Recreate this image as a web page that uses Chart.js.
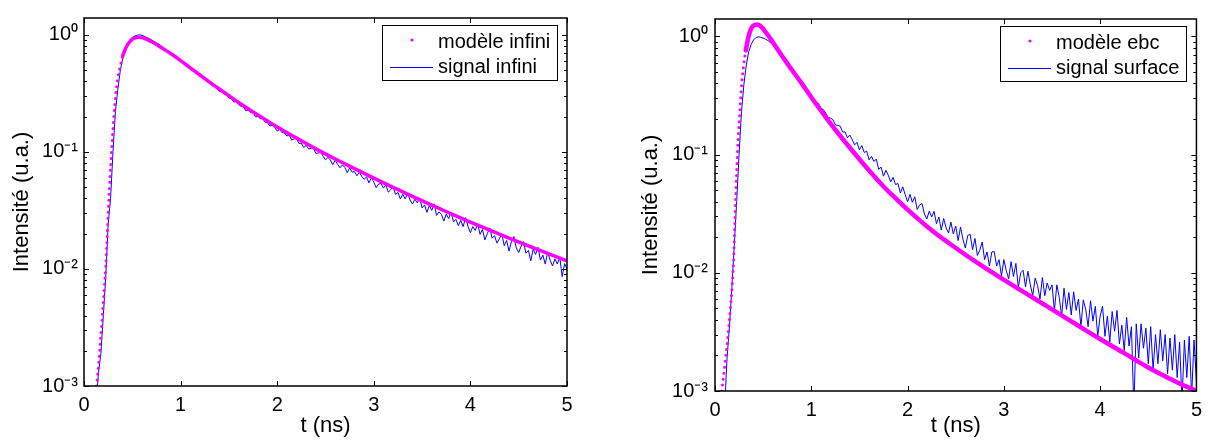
<!DOCTYPE html>
<html>
<head>
<meta charset="utf-8">
<script src="https://cdn.jsdelivr.net/npm/chart.js@4/dist/chart.umd.min.js"></script>
<style>
  html, body { margin: 0; padding: 0; background: #fff; }
  #left, #right { position: absolute; top: 0; }
  #left { left: 0; }
  #right { left: 605px; }
</style>
</head>
<body>
<canvas id="left" width="605" height="443"></canvas>
<canvas id="right" width="604" height="443"></canvas>
<script>
// axes
const xTickValues = [0, 1, 2, 3, 4, 5];
const yDecades = [0.001, 0.01, 0.1, 1];
const xTitle = 't (ns)';
const yTitle = 'Intensité (u.a.)';

// left panel : modèle infini / signal infini
const leftModelLabel = 'modèle infini';
const leftSignalLabel = 'signal infini';
const leftModelT = [0.13, 0.15, 0.17, 0.19, 0.21, 0.225, 0.24, 0.255, 0.27, 0.285, 0.30, 0.315, 0.33, 0.345, 0.36, 0.38,
  0.40, 0.425, 0.45, 0.475, 0.50, 0.53, 0.56, 0.60, 0.65, 0.70, 0.75, 0.80, 0.85, 0.90, 0.95, 1.0,
  1.1, 1.2, 1.3, 1.4, 1.5, 1.6, 1.7, 1.8, 1.9, 2.0, 2.2, 2.4, 2.6, 2.8, 3.0, 3.2, 3.4, 3.6, 3.8,
  4.0, 4.2, 4.4, 4.6, 4.8, 5.0];
const leftModelY = [0.0010, 0.0015, 0.0024, 0.0040, 0.0068, 0.0105, 0.019, 0.036, 0.062, 0.100, 0.157, 0.23, 0.315, 0.40, 0.475, 0.56,
  0.655, 0.745, 0.82, 0.875, 0.915, 0.94, 0.95, 0.945, 0.912, 0.87, 0.825, 0.777, 0.732, 0.688, 0.645, 0.602,
  0.522, 0.453, 0.394, 0.344, 0.301, 0.264, 0.233, 0.206, 0.183, 0.163, 0.131, 0.106, 0.0869, 0.0718, 0.0596, 0.0497, 0.0416, 0.0350, 0.0296,
  0.0251, 0.0214, 0.0183, 0.0157, 0.0136, 0.0117];
// signal sampled every 0.025 ns from 0.1 ns (8 samples per row)
const leftSignalY = [
  0.0005, 0.0007, 0.0013, 0.0019, 0.0040, 0.0085, 0.024, 0.040,
  0.10, 0.22, 0.34, 0.49, 0.62, 0.74, 0.84, 0.90,
  0.95, 0.975, 0.99, 1.0, 0.99, 0.97, 0.945, 0.93,
  0.905, 0.875, 0.855, 0.83, 0.80, 0.765, 0.742, 0.715,
  0.696, 0.671, 0.642, 0.629, 0.602, 0.573, 0.565, 0.536,
  0.525, 0.495, 0.491, 0.466, 0.443, 0.441, 0.416, 0.396,
  0.390, 0.367, 0.369, 0.348, 0.328, 0.328, 0.313, 0.311,
  0.288, 0.286, 0.266, 0.270, 0.255, 0.243, 0.2445, 0.224,
  0.2275, 0.216, 0.2165, 0.199, 0.2005, 0.192, 0.1925, 0.1795,
  0.177, 0.166, 0.170, 0.1605, 0.1507, 0.1552, 0.1459, 0.1452,
  0.1365, 0.139, 0.126, 0.129, 0.1294, 0.118, 0.1186, 0.109,
  0.1138, 0.106, 0.107, 0.1076, 0.0968, 0.0977, 0.0986, 0.0918,
  0.0855, 0.0895, 0.0853, 0.0776, 0.0849, 0.0783, 0.073, 0.0773,
  0.0736, 0.0664, 0.0728, 0.067, 0.0678, 0.0625, 0.067, 0.0617,
  0.0582, 0.061, 0.0543, 0.0603, 0.055, 0.0495, 0.0531, 0.0537,
  0.049, 0.052, 0.0453, 0.0474, 0.0502, 0.0433, 0.0449, 0.0395,
  0.0434, 0.0396, 0.0445, 0.0388, 0.0358, 0.0394, 0.0367, 0.0404,
  0.0332, 0.0352, 0.0304, 0.0349, 0.0316, 0.0359, 0.0286, 0.0307,
  0.0293, 0.0256, 0.0294, 0.0269, 0.0306, 0.0252, 0.0265, 0.0234,
  0.026, 0.023, 0.0274, 0.0231, 0.0204, 0.023, 0.0213, 0.0242,
  0.0197, 0.0217, 0.0177, 0.020, 0.0224, 0.0183, 0.0192, 0.0166,
  0.0181, 0.0199, 0.0158, 0.0175, 0.0142, 0.0172, 0.0189, 0.0151,
  0.0138, 0.0156, 0.0171, 0.0136, 0.0144, 0.0117, 0.0148, 0.0133,
  0.0153, 0.0119, 0.0131, 0.011, 0.0139, 0.0119, 0.0106, 0.0122,
  0.011, 0.0126, 0.0086, 0.0111, 0.00995
];

// right panel : modèle ebc / signal surface
const rightModelLabel = 'modèle ebc';
const rightSignalLabel = 'signal surface';
const rightModelT = [0.07, 0.10, 0.13, 0.16, 0.18, 0.195, 0.21, 0.225, 0.24, 0.26, 0.28, 0.30, 0.32, 0.34, 0.36, 0.38,
  0.40, 0.43, 0.46, 0.49, 0.52, 0.555, 0.60, 0.65, 0.70, 0.75, 0.80, 0.85, 0.90, 0.95, 1.0,
  1.125, 1.25, 1.375, 1.5, 1.625, 1.75, 1.875, 2.0, 2.25, 2.5, 2.75, 3.0, 3.25, 3.5, 3.75,
  4.0, 4.25, 4.5, 4.75, 5.0];
const rightModelY = [0.0010, 0.0016, 0.0027, 0.0050, 0.0080, 0.0140, 0.033, 0.072, 0.135, 0.243, 0.42, 0.59, 0.76, 0.93, 1.08, 1.18,
  1.235, 1.26, 1.24, 1.18, 1.10, 1.01, 0.89, 0.775, 0.675, 0.59, 0.518, 0.455, 0.40, 0.35, 0.305,
  0.221, 0.162, 0.121, 0.0912, 0.0695, 0.0537, 0.0427, 0.0342, 0.0229, 0.0162, 0.01175, 0.0087, 0.00653, 0.0049, 0.00367,
  0.00275, 0.00209, 0.00158, 0.00124, 0.00100];
const rightSignalY = [
  0.0007, 0.0019, 0.0035, 0.0075, 0.017, 0.040, 0.10, 0.23,
  0.39, 0.57, 0.74, 0.85, 0.93, 0.975, 0.99, 0.98,
  0.965, 0.945, 0.92, 0.885, 0.85, 0.81, 0.77, 0.725,
  0.68, 0.64, 0.60, 0.56, 0.515, 0.48, 0.45, 0.42,
  0.39, 0.365, 0.345, 0.325, 0.31, 0.298, 0.274, 0.270,
  0.245, 0.2404, 0.2244, 0.2051, 0.2032, 0.1972, 0.1778, 0.1762,
  0.1738, 0.1549, 0.1556, 0.1387, 0.1462, 0.1337, 0.1208, 0.1265,
  0.1096, 0.1191, 0.104, 0.1069, 0.0902, 0.0964, 0.0875, 0.0914,
  0.075, 0.0783, 0.0656, 0.0735, 0.0668, 0.0587, 0.0641, 0.0557,
  0.0569, 0.0472, 0.0533, 0.0458, 0.0398, 0.046, 0.0394, 0.0439,
  0.0343, 0.0374, 0.0385, 0.0314, 0.0285, 0.0332, 0.0297, 0.033,
  0.026, 0.0296, 0.023, 0.0288, 0.024, 0.0217, 0.0268, 0.0213,
  0.0248, 0.0187, 0.0244, 0.0192, 0.0162, 0.0207, 0.0211, 0.0157,
  0.0195, 0.014, 0.0155, 0.0182, 0.0129, 0.015, 0.0114, 0.015,
  0.0151, 0.0114, 0.0129, 0.0094, 0.0129, 0.0104, 0.0089, 0.0124,
  0.0093, 0.012, 0.0075, 0.010, 0.0105, 0.0076, 0.0103, 0.0079,
  0.0064, 0.009, 0.0078, 0.006, 0.0091, 0.0064, 0.0082, 0.0071,
  0.0079, 0.0048, 0.0079, 0.0062, 0.0043, 0.0074, 0.0049, 0.0068,
  0.0044, 0.0069, 0.0048, 0.006, 0.0035, 0.0059, 0.0049, 0.0035,
  0.0058, 0.0039, 0.0052, 0.0029, 0.0043, 0.0052, 0.0029, 0.0043,
  0.0026, 0.0047, 0.0032, 0.0048, 0.0025, 0.0036, 0.0022, 0.0042,
  0.0024, 0.0035, 0.0007, 0.0037, 0.0019, 0.0037, 0.0023, 0.0034,
  0.0017, 0.0035, 0.0015, 0.0030, 0.0017, 0.0033, 0.0018, 0.0030,
  0.0014, 0.0028, 0.0015, 0.0030, 0.0013, 0.0026, 0.0008, 0.0027,
  0.0013, 0.0029, 0.0009, 0.0027, 0.0012
];
const signalT0 = 0.1, signalDt = 0.025;

const FONT = '"Liberation Sans", Arial, Helvetica, sans-serif';
const MAGENTA = '#ff00ff', BLUE = '#0000ff';

Chart.defaults.font.family = FONT;
Chart.defaults.color = '#000';

const supDigits = { '-': '⁻', '0': '⁰', '1': '¹', '2': '²', '3': '³' };
function decadeLabel(v) {
  const l = Math.log10(v), e = Math.round(l);
  if (Math.abs(l - e) > 1e-6) return '';
  return '10' + String(e).split('').map(c => supDigits[c]).join('');
}

function toPoints(ts, ys) { return ys.map((y, i) => ({ x: ts[i], y: y })); }
function signalPoints(ys) { return ys.map((y, i) => ({ x: +(signalT0 + i * signalDt).toFixed(3), y: y })); }

// inside ticks + box, MATLAB style
const frameTicks = {
  id: 'frameTicks',
  afterDatasetsDraw(chart) {
    const { ctx, chartArea: a, scales: { x, y } } = chart;
    ctx.save();
    ctx.strokeStyle = '#000';
    ctx.lineWidth = 1;
    ctx.beginPath();
    xTickValues.forEach(v => {
      const px = Math.round(x.getPixelForValue(v)) + 0.5;
      ctx.moveTo(px, a.bottom); ctx.lineTo(px, a.bottom - 5);
      ctx.moveTo(px, a.top); ctx.lineTo(px, a.top + 5);
    });
    yDecades.forEach(d => {
      for (let m = 1; m <= 9; m++) {
        const v = m * d;
        if (v > y.max) break;
        const py = Math.round(y.getPixelForValue(v)) + 0.5;
        const len = m === 1 ? 5 : 3;
        ctx.moveTo(a.left, py); ctx.lineTo(a.left + len, py);
        ctx.moveTo(a.right, py); ctx.lineTo(a.right - len, py);
      }
    });
    ctx.stroke();
    ctx.lineWidth = 1.5;
    ctx.strokeRect(a.left, a.top, a.width, a.height);
    ctx.restore();
  }
};

// legend box in the upper right corner
const boxLegend = {
  id: 'boxLegend',
  afterDraw(chart) {
    const { ctx, chartArea: a } = chart;
    const items = chart.data.datasets.map((ds, i) => ({ text: ds.label, color: ds.borderColor, dot: i === 0 }));
    ctx.save();
    ctx.font = '20px ' + FONT;
    const tw = Math.max(...items.map(it => ctx.measureText(it.text).width));
    const w = Math.round(56 + tw + 7), h = 55;
    const right = Math.round(a.right) - 10, top = Math.round(a.top) + 7;
    const left = right - w;
    ctx.fillStyle = '#fff';
    ctx.fillRect(left, top, w, h);
    ctx.strokeStyle = '#000';
    ctx.lineWidth = 1;
    ctx.strokeRect(left + 0.5, top + 0.5, w, h);
    items.forEach((it, i) => {
      const my = top + 15 + i * 27;
      if (it.dot) {
        ctx.fillStyle = it.color;
        ctx.beginPath(); ctx.arc(left + 30, my, 1.6, 0, Math.PI * 2); ctx.fill();
      } else {
        ctx.strokeStyle = it.color;
        ctx.beginPath(); ctx.moveTo(left + 8, my + 0.5); ctx.lineTo(left + 51, my + 0.5); ctx.stroke();
      }
      ctx.fillStyle = '#000';
      ctx.textBaseline = 'alphabetic';
      ctx.fillText(it.text, left + 56, top + 23 + i * 25);
    });
    ctx.restore();
  }
};

function makeChart(id, p) {
  new Chart(document.getElementById(id).getContext('2d'), {
    type: 'line',
    data: {
      datasets: [
        {
          label: p.modelLabel,
          data: toPoints(p.modelT, p.modelY),
          borderColor: MAGENTA,
          borderWidth: p.modelWidth,
          borderCapStyle: 'round',
          pointRadius: 0,
          cubicInterpolationMode: 'monotone',
          clip: 0,
          segment: {
            borderDash: ctx => ctx.p1.parsed.x <= p.dotsUntil ? [0, 6] : undefined,
            borderWidth: ctx => ctx.p1.parsed.x <= p.dotsUntil ? 3 : undefined
          }
        },
        {
          label: p.signalLabel,
          data: signalPoints(p.signalY),
          borderColor: BLUE,
          borderWidth: 1,
          pointRadius: 0,
          tension: 0,
          clip: 0
        }
      ]
    },
    options: {
      responsive: false,
      animation: false,
      events: [],
      layout: { padding: { top: 12, right: p.padRight, bottom: 0, left: 0 } },
      plugins: { legend: { display: false }, tooltip: { enabled: false } },
      scales: {
        x: {
          type: 'linear',
          min: 0, max: 5,
          grid: { display: false, drawTicks: false },
          border: { display: false },
          ticks: { stepSize: 1, padding: 7, font: { size: 20 }, color: '#000' },
          title: { display: true, text: xTitle, font: { size: 22 }, padding: { top: 0, bottom: 4 }, color: '#000' },
          afterFit: s => { s.height = p.xAxisHeight; }
        },
        y: {
          type: 'logarithmic',
          min: 0.001, max: p.yMax,
          grid: { display: false, drawTicks: false },
          border: { display: false },
          ticks: { autoSkip: false, padding: p.yTickPad, font: { size: 20 }, color: '#000', callback: v => decadeLabel(v) },
          title: { display: true, text: yTitle, font: { size: 22 }, padding: { top: p.yTitlePad, bottom: 0 }, color: '#000' },
          afterFit: s => { s.width = p.yAxisWidth; }
        }
      }
    },
    plugins: [frameTicks, boxLegend]
  });
}

makeChart('left', {
  modelLabel: leftModelLabel, signalLabel: leftSignalLabel,
  modelT: leftModelT, modelY: leftModelY, signalY: leftSignalY,
  modelWidth: 3.5, dotsUntil: 0.40, yMax: 1.39,
  padRight: 38, xAxisHeight: 57, yAxisWidth: 84, yTickPad: 6, yTitlePad: 9
});
makeChart('right', {
  modelLabel: rightModelLabel, signalLabel: rightSignalLabel,
  modelT: rightModelT, modelY: rightModelY, signalY: rightSignalY,
  modelWidth: 4.5, dotsUntil: 0.32, yMax: 1.40,
  padRight: 12, xAxisHeight: 52, yAxisWidth: 110, yTickPad: 7, yTitlePad: 33
});
</script>
</body>
</html>
